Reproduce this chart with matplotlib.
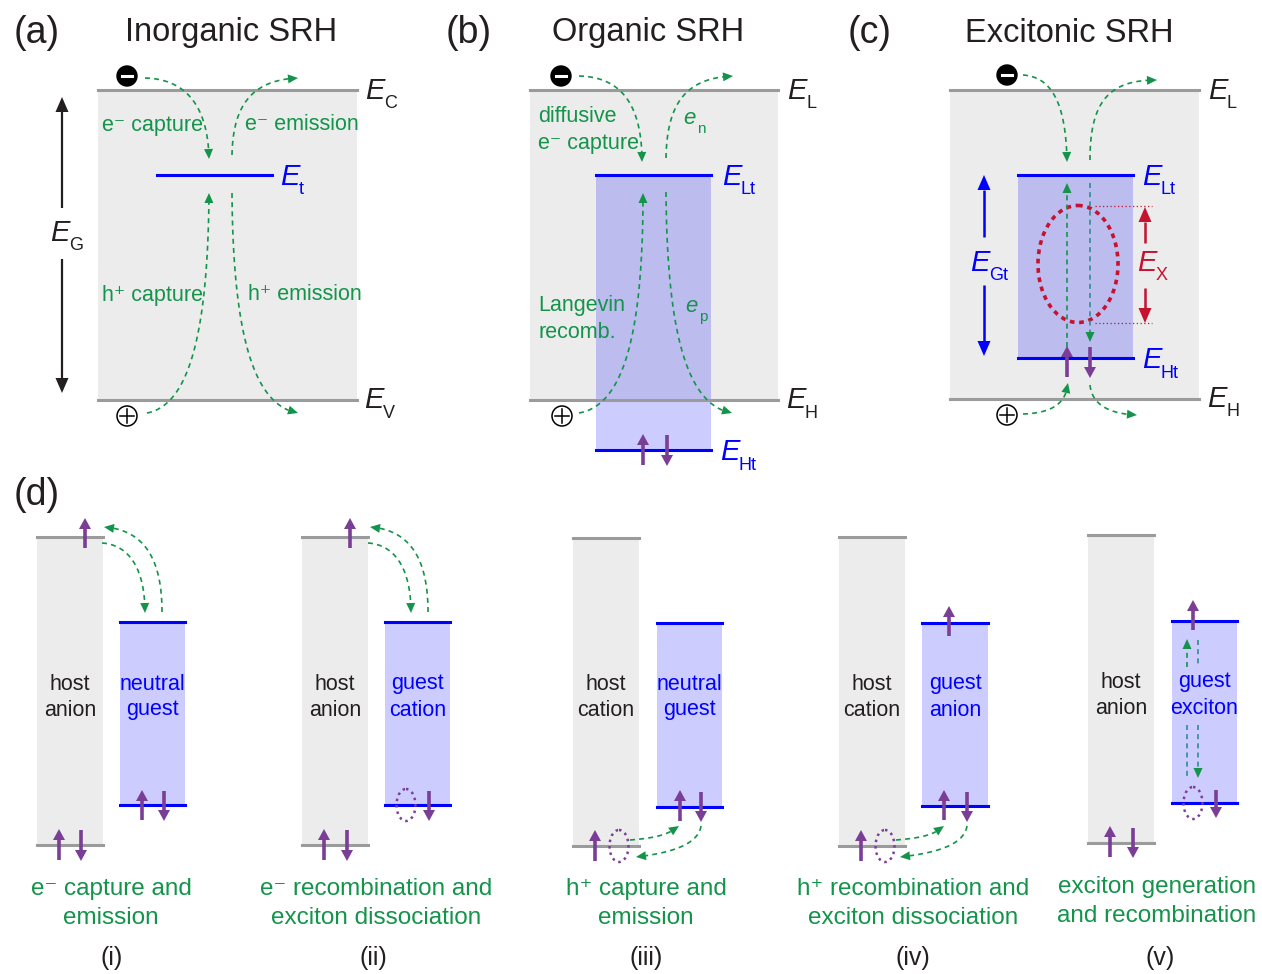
import numpy as np
import matplotlib.pyplot as plt
from matplotlib.patches import Rectangle, Circle, Ellipse, Polygon

plt.rcParams['font.family'] = ['Liberation Sans', 'DejaVu Sans']

GREEN = '#13944a'
TEAL = '#2f8c8c'
BLUE = '#0000ff'
PURPLE = '#7a3e97'
RED = '#c4122f'
GRAY_LINE = '#9b9b9b'
GRAY_FILL = '#ececec'
DARK = '#231f20'

# ---- panneaux (a)-(c) ----
lettres = ['(a)', '(b)', '(c)']
lettre_x = [37, 469, 870]
titres = ['Inorganic SRH', 'Organic SRH', 'Excitonic SRH']
titre_x = [231, 648, 1069]
bande_x0 = [98, 530, 950]
bande_x1 = [357, 778, 1199]
bande_haut = [90, 90, 90]
bande_bas = [400, 400, 399]
bande_noms = [('C', 'V'), ('L', 'H'), ('L', 'H')]
nom_x = [365, 787, 1208]

# boites de pieges (b) et (c)
piege_x0 = [596, 1018]
piege_x1 = [711, 1133]
piege_haut = [175, 175]
piege_bas = [450, 358]

# ---- panneau (d) ----
hote_x0 = [37, 302, 573, 839, 1088]
hote_x1 = [103, 368, 639, 905, 1154]
hote_haut = [537, 537, 538, 537, 535]
hote_bas = [845, 845, 846, 846, 843]
invite_x0 = [120, 385, 657, 922, 1172]
invite_x1 = [185, 450, 722, 988, 1237]
invite_haut = [622, 622, 623, 623, 621]
invite_bas = [805, 805, 807, 806, 803]
hote_txt = [('host', 'anion'), ('host', 'anion'), ('host', 'cation'),
            ('host', 'cation'), ('host', 'anion')]
invite_txt = [('neutral', 'guest'), ('guest', 'cation'), ('neutral', 'guest'),
              ('guest', 'anion'), ('guest', 'exciton')]
legendes = [('e\u207b capture and', 'emission'),
            ('e\u207b recombination and', 'exciton dissociation'),
            ('h\u207a capture and', 'emission'),
            ('h\u207a recombination and', 'exciton dissociation'),
            ('exciton generation', 'and recombination')]
legende_x = [111, 376, 646, 913, 1157]
legende_y = [889, 889, 889, 889, 887]
chiffres = ['(i)', '(ii)', '(iii)', '(iv)', '(v)']
chiffre_x = [112, 373, 646, 913, 1160]

# spins : (x, y_queue, y_pointe)
spins = [(85, 548, 518), (59, 860, 829), (81, 830, 861), (142, 820, 790), (164, 791, 821),
         (350, 548, 518), (324, 860, 829), (347, 830, 861), (429, 791, 821),
         (595, 861, 830), (680, 821, 790), (701, 792, 822),
         (949, 636, 606), (861, 861, 830), (944, 820, 790), (967, 792, 822),
         (1193, 630, 600), (1216, 790, 818), (1110, 857, 826), (1133, 828, 858),
         (643, 465, 434), (667, 435, 466), (1067, 377, 346), (1090, 347, 378)]
trous = [(406, 805), (619, 846), (885, 846), (1193, 803)]

fleches_vertes = [
    # (a)
    [(145, 78), (185, 79), (208, 105), (209, 159)],
    [(232, 155), (233, 105), (252, 80), (298, 78)],
    [(147, 413), (190, 405), (208, 330), (209, 193)],
    [(232, 193), (233, 330), (252, 405), (298, 413)],
    # (b)
    [(579, 76), (620, 77), (642, 103), (642, 162)],
    [(666, 158), (667, 103), (686, 78), (733, 76)],
    [(579, 413), (625, 405), (643, 330), (643, 193)],
    [(666, 192), (667, 330), (686, 405), (732, 413)],
    # (c)
    [(1023, 75), (1050, 77), (1066, 100), (1067, 162)],
    [(1090, 160), (1090, 100), (1110, 80), (1157, 80)],
    [(1023, 414), (1050, 413), (1066, 405), (1068, 383)],
    [(1090, 385), (1092, 405), (1110, 414), (1137, 415)],
    [(1067, 347), (1067, 183)],
    # (d)
    [(102, 543), (130, 545), (145, 570), (145, 613)],
    [(162, 612), (162, 560), (145, 530), (104, 527)],
    [(368, 543), (396, 545), (411, 570), (411, 613)],
    [(428, 612), (428, 560), (411, 530), (370, 527)],
    [(630, 840), (655, 838), (668, 835), (679, 826)],
    [(701, 826), (698, 845), (670, 853), (636, 857)],
    [(896, 840), (921, 838), (934, 835), (944, 826)],
    [(967, 826), (964, 845), (936, 853), (900, 857)],
    [(1187, 667), (1187, 639)],
]
lignes_teal = [[(1198, 640), (1198, 667)], [(1187, 725), (1187, 778)]]
fleches_teal = [[(1090, 183), (1090, 342)], [(1198, 725), (1198, 778)]]


def bezier(pts, n=100):
    p = np.asarray(pts, float)
    t = np.linspace(0, 1, n)[:, None]
    if len(p) == 2:
        return p[0] * (1 - t) + p[1] * t
    return ((1 - t) ** 3 * p[0] + 3 * (1 - t) ** 2 * t * p[1]
            + 3 * (1 - t) * t ** 2 * p[2] + t ** 3 * p[3])


def tete(ax, tip, u, color, hl, hw):
    base = tip - u * hl
    n = np.array([-u[1], u[0]])
    ax.add_patch(Polygon([tip, base + n * hw / 2, base - n * hw / 2],
                         closed=True, color=color, lw=0, zorder=6))
    return base


def fleche_tiret(ax, pts, color=GREEN, tete_col=GREEN, avec_tete=True,
                 lw=1.2, hl=10, hw=9):
    c = bezier(pts)
    if avec_tete:
        tip = c[-1]
        d = np.hypot(*(c - tip).T)
        idx = np.where(d >= hl)[0][-1]
        u = (tip - c[idx]) / np.hypot(*(tip - c[idx]))
        base = tete(ax, tip, u, tete_col, hl, hw)
        c = np.vstack([c[:idx + 1], base])
    ax.plot(c[:, 0], c[:, 1], color=color, lw=lw, ls=(0, (3, 2.5)), zorder=5)


def fleche_pleine(ax, queue, pointe, color, lw=2.4, hl=11, hw=11):
    queue = np.asarray(queue, float)
    pointe = np.asarray(pointe, float)
    u = (pointe - queue) / np.hypot(*(pointe - queue))
    base = tete(ax, pointe, u, color, hl, hw)
    ax.plot([queue[0], base[0]], [queue[1], base[1]], color=color, lw=lw,
            solid_capstyle='butt', zorder=6)


def label_E(ax, x, y, sub, color, lettre='E', size=21, subsize=13, dx=19, dy=13):
    ax.text(x, y, lettre, style='italic', fontsize=size, color=color,
            ha='left', va='center')
    ax.text(x + dx, y + dy, sub, fontsize=subsize, color=color,
            ha='left', va='center')


fig = plt.figure(figsize=(12.62, 9.74), dpi=100)
ax = fig.add_axes([0, 0, 1, 1])
ax.set_xlim(0, 1262)
ax.set_ylim(974, 0)
ax.axis('off')

# ---- (a)-(c) ----
for k in range(3):
    ax.text(lettre_x[k], 33, lettres[k], fontsize=27, color=DARK, ha='center', va='center')
    ax.text(titre_x[k], 33, titres[k], fontsize=23.5, color=DARK, ha='center', va='center')
    x0, x1 = bande_x0[k], bande_x1[k]
    ax.add_patch(Rectangle((x0, bande_haut[k]), x1 - x0, bande_bas[k] - bande_haut[k],
                           color=GRAY_FILL, lw=0, zorder=1))
    label_E(ax, nom_x[k], bande_haut[k] + 1, bande_noms[k][0], DARK)
    label_E(ax, nom_x[k] - 1, bande_bas[k], bande_noms[k][1], DARK)

for k in range(2):
    x0, x1 = piege_x0[k], piege_x1[k]
    ax.add_patch(Rectangle((x0, piege_haut[k]), x1 - x0, piege_bas[k] - piege_haut[k],
                           color=BLUE, alpha=0.2, lw=0, zorder=2))
    ax.plot([x0, x1], [piege_haut[k]] * 2, color=BLUE, lw=2.2, zorder=4)
    ax.plot([x0, x1], [piege_bas[k]] * 2, color=BLUE, lw=2.2, zorder=4)

for k in range(3):
    for y in (bande_haut[k], bande_bas[k]):
        ax.plot([bande_x0[k], bande_x1[k]], [y, y], color=GRAY_LINE, lw=2.2, zorder=3)

# niveau E_t
ax.plot([157, 272], [175, 175], color=BLUE, lw=2.2, zorder=4)
label_E(ax, 280, 177, 't', BLUE)
label_E(ax, 722, 177, 'Lt', BLUE)
label_E(ax, 720, 452, 'Ht', BLUE)
label_E(ax, 1142, 177, 'Lt', BLUE)
label_E(ax, 1142, 360, 'Ht', BLUE)

# E_G, E_Gt, E_X
fleche_pleine(ax, (62, 208), (62, 97), DARK, lw=1.6, hl=15, hw=13)
fleche_pleine(ax, (62, 259), (62, 393), DARK, lw=1.6, hl=15, hw=13)
label_E(ax, 50, 233, 'G', DARK)
fleche_pleine(ax, (984, 237), (984, 175), BLUE, lw=1.8, hl=15, hw=13)
fleche_pleine(ax, (984, 285), (984, 356), BLUE, lw=1.8, hl=15, hw=13)
label_E(ax, 970, 263, 'Gt', BLUE)
fleche_pleine(ax, (1145, 243), (1145, 207), RED, lw=1.8, hl=15, hw=13)
fleche_pleine(ax, (1145, 288), (1145, 323), RED, lw=1.8, hl=15, hw=13)
label_E(ax, 1137, 263, 'X', RED)
for y in (206, 323):
    ax.plot([1095, 1152], [y, y], color=RED, lw=0.9, ls=(0, (1, 2)), zorder=5)
ell = Ellipse((1078, 264), 80, 117, fill=False, ec=RED, lw=2.6, ls=(0, (1.3, 1.3)), zorder=5)
ax.add_patch(ell)

# charges
for cx, cy in [(127, 76), (561, 76), (1007, 75)]:
    ax.add_patch(Circle((cx, cy), 10, color='black', zorder=6))
    ax.plot([cx - 5, cx + 5], [cy, cy], color='white', lw=2.2, zorder=7)
for cx, cy in [(127, 416), (562, 416), (1007, 415)]:
    ax.add_patch(Circle((cx, cy), 10, fc='white', ec='black', lw=1.1, zorder=6))
    ax.plot([cx - 7, cx + 7], [cy, cy], color='black', lw=1.1, zorder=7)
    ax.plot([cx, cx], [cy - 7, cy + 7], color='black', lw=1.1, zorder=7)

# textes verts (a), (b)
fs = 15.5
ax.text(102, 125, 'e\u207b capture', fontsize=fs, color=GREEN, ha='left', va='center')
ax.text(245, 125, 'e\u207b emission', fontsize=fs, color=GREEN, ha='left', va='center')
ax.text(102, 295, 'h\u207a capture', fontsize=fs, color=GREEN, ha='left', va='center')
ax.text(248, 295, 'h\u207a emission', fontsize=fs, color=GREEN, ha='left', va='center')
ax.text(538, 117, 'diffusive', fontsize=fs, color=GREEN, ha='left', va='center')
ax.text(538, 144, 'e\u207b capture', fontsize=fs, color=GREEN, ha='left', va='center')
ax.text(538, 305, 'Langevin', fontsize=fs, color=GREEN, ha='left', va='center')
ax.text(538, 332, 'recomb.', fontsize=fs, color=GREEN, ha='left', va='center')
label_E(ax, 683, 118, 'n', GREEN, lettre='e', size=16, subsize=11, dx=14, dy=11)
label_E(ax, 685, 306, 'p', GREEN, lettre='e', size=16, subsize=11, dx=14, dy=11)

# ---- (d) ----
ax.text(37, 495, '(d)', fontsize=27, color=DARK, ha='center', va='center')
for k in range(5):
    x0, x1 = hote_x0[k], hote_x1[k]
    ax.add_patch(Rectangle((x0, hote_haut[k]), x1 - x0, hote_bas[k] - hote_haut[k],
                           color=GRAY_FILL, lw=0, zorder=1))
    for y in (hote_haut[k], hote_bas[k]):
        ax.plot([x0, x1], [y, y], color=GRAY_LINE, lw=2.2, zorder=3)
    g0, g1 = invite_x0[k], invite_x1[k]
    ax.add_patch(Rectangle((g0, invite_haut[k]), g1 - g0, invite_bas[k] - invite_haut[k],
                           color=BLUE, alpha=0.2, lw=0, zorder=2))
    for y in (invite_haut[k], invite_bas[k]):
        ax.plot([g0, g1], [y, y], color=BLUE, lw=2.2, zorder=4)
    yt = 684 if k < 4 else 682
    xc = (x0 + x1) / 2
    gc = (g0 + g1) / 2
    ax.text(xc, yt, hote_txt[k][0], fontsize=15.5, color=DARK, ha='center', va='center')
    ax.text(xc, yt + 26, hote_txt[k][1], fontsize=15.5, color=DARK, ha='center', va='center')
    ax.text(gc, yt, invite_txt[k][0], fontsize=15.5, color=BLUE, ha='center', va='center')
    ax.text(gc, yt + 26, invite_txt[k][1], fontsize=15.5, color=BLUE, ha='center', va='center')
    ax.text(legende_x[k], legende_y[k], legendes[k][0], fontsize=17.5, color=GREEN,
            ha='center', va='center')
    ax.text(legende_x[k], legende_y[k] + 29, legendes[k][1], fontsize=17.5, color=GREEN,
            ha='center', va='center')
    ax.text(chiffre_x[k], 958, chiffres[k], fontsize=18, color=DARK, ha='center', va='center')

for x, yq, yp in spins:
    fleche_pleine(ax, (x, yq), (x, yp), PURPLE, lw=2.6, hl=11, hw=12)
for x, y in trous:
    e = Ellipse((x, y), 19, 32, fill=False, ec=PURPLE, lw=1.8, ls=(0, (1, 1.6)), zorder=6)
    ax.add_patch(e)

for pts in fleches_vertes:
    fleche_tiret(ax, pts)
for pts in lignes_teal:
    fleche_tiret(ax, pts, color=TEAL, avec_tete=False)
for pts in fleches_teal:
    fleche_tiret(ax, pts, color=TEAL, avec_tete=True)

fig.savefig('out.png', dpi=100)
